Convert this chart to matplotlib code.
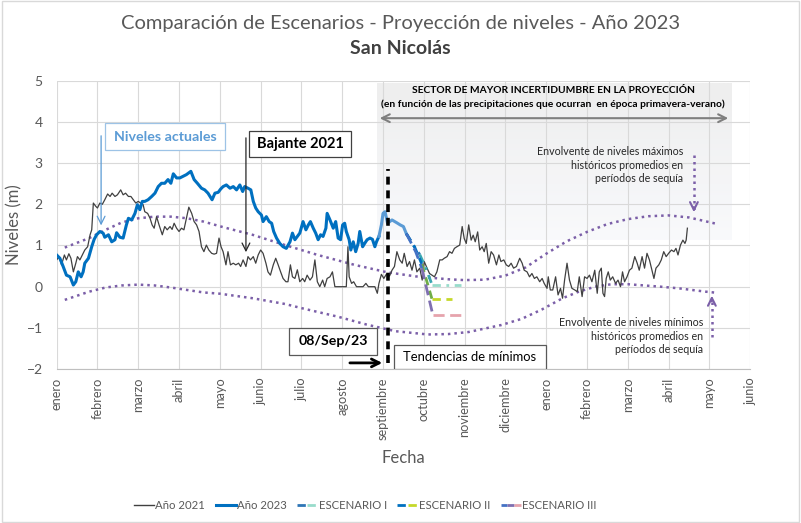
import matplotlib
matplotlib.use("Agg")
import matplotlib.pyplot as plt
import numpy as np
from matplotlib.lines import Line2D
from matplotlib.legend_handler import HandlerTuple
from matplotlib.patches import Rectangle

plt.rcParams['font.family'] = ['Lato', 'DejaVu Sans']

# x axis = months counted from enero 2023 (0) up to junio of next year (17)
month_labels = ['enero', 'febrero', 'marzo', 'abril', 'mayo', 'junio', 'julio', 'agosto',
                'septiembre', 'octubre', 'noviembre', 'diciembre', 'enero', 'febrero',
                'marzo', 'abril', 'mayo', 'junio']

# Año 2023 (observed)
m2023 = [0, 0.08, 0.16, 0.24, 0.33, 0.41, 0.47, 0.53, 0.6, 0.65, 0.69, 0.78, 0.86, 0.92,
         0.98, 1.06, 1.14, 1.18, 1.27, 1.35, 1.43, 1.47, 1.55, 1.63, 1.71, 1.76, 1.84, 1.92,
         1.98, 2.04, 2.1, 2.16, 2.24, 2.33, 2.41, 2.49, 2.57, 2.65, 2.73, 2.8, 2.86, 2.94,
         3.02, 3.1, 3.18, 3.29, 3.37, 3.45, 3.55, 3.63, 3.71, 3.81, 3.88, 3.96, 4.02, 4.08,
         4.16, 4.25, 4.33, 4.41, 4.49, 4.56, 4.61, 4.69, 4.76, 4.82, 4.88, 4.94, 5.02, 5.06,
         5.14, 5.21, 5.27, 5.32, 5.39, 5.47, 5.55, 5.63, 5.72, 5.78, 5.84, 5.9, 5.96, 6.04,
         6.11, 6.17, 6.22, 6.29, 6.35, 6.41, 6.47, 6.53, 6.6, 6.63, 6.7, 6.78, 6.84, 6.9,
         6.96, 7.01, 7.06, 7.1, 7.17, 7.21, 7.27, 7.33, 7.39, 7.43, 7.5, 7.55, 7.61, 7.68,
         7.74, 7.8, 7.84, 7.9]
v2023 = [0.77, 0.69, 0.49, 0.28, 0.24, 0.04, 0.12, 0.36, 0.24, 0.36, 0.57, 0.69, 0.97, 1.15,
         1.26, 1.34, 1.3, 1.2, 1.26, 1.09, 1.14, 1.31, 1.2, 1.18, 1.5, 1.66, 1.62, 1.78,
         1.99, 1.87, 2.07, 2.07, 2.11, 2.19, 2.27, 2.43, 2.51, 2.51, 2.6, 2.51, 2.74, 2.64,
         2.64, 2.68, 2.72, 2.8, 2.6, 2.51, 2.39, 2.35, 2.27, 2.11, 2.27, 2.29, 2.37, 2.43,
         2.47, 2.39, 2.43, 2.35, 2.47, 2.31, 2.43, 2.39, 2.35, 2.07, 1.91, 1.82, 1.74, 1.58,
         1.7, 1.58, 1.54, 1.34, 1.18, 1.05, 0.97, 0.93, 1.09, 1.3, 1.14, 1.22, 1.3, 1.58,
         1.38, 1.5, 1.58, 1.42, 1.3, 1.14, 1.26, 1.22, 1.42, 1.78, 1.62, 1.42, 1.58, 1.18,
         1.14, 1.5, 1.54, 1.34, 1.14, 0.89, 1.09, 0.85, 1.05, 1.34, 0.97, 1.05, 1.14, 1.18,
         1.15, 0.97, 1.09, 1.22]

# Año 2021
m2021 = [0, 0.06, 0.12, 0.19, 0.24, 0.3, 0.35, 0.41, 0.47, 0.51, 0.57, 0.63, 0.69, 0.76,
         0.82, 0.86, 0.9, 0.96, 1.0, 1.06, 1.12, 1.18, 1.25, 1.31, 1.36, 1.43, 1.49, 1.57,
         1.63, 1.69, 1.76, 1.82, 1.88, 1.94, 2.0, 2.06, 2.12, 2.16, 2.23, 2.29, 2.34, 2.39,
         2.45, 2.51, 2.55, 2.59, 2.65, 2.71, 2.78, 2.83, 2.88, 2.94, 3.0, 3.06, 3.12, 3.18,
         3.24, 3.31, 3.37, 3.43, 3.49, 3.55, 3.61, 3.67, 3.73, 3.8, 3.86, 3.92, 3.98, 4.03,
         4.08, 4.15, 4.2, 4.26, 4.33, 4.39, 4.46, 4.51, 4.57, 4.64, 4.69, 4.75, 4.82, 4.88,
         4.94, 5.0, 5.06, 5.13, 5.18, 5.24, 5.31, 5.37, 5.43, 5.49, 5.55, 5.62, 5.67, 5.73,
         5.78, 5.84, 5.9, 5.96, 6.03, 6.08, 6.14, 6.21, 6.27, 6.33, 6.39, 6.45, 6.52, 6.57,
         6.63, 6.7, 6.76, 6.82, 6.94, 7.1, 7.14, 7.17, 7.23, 7.28, 7.35, 7.51, 7.58, 7.64,
         7.8, 7.86, 7.9, 7.96, 8.02, 8.08, 8.16, 8.22, 8.28, 8.34, 8.41, 8.47, 8.52, 8.59,
         8.65, 8.71, 8.77, 8.83, 8.9, 8.96, 9.01, 9.08, 9.14, 9.2, 9.26, 9.32, 9.39, 9.45,
         9.5, 9.57, 9.63, 9.69, 9.75, 9.81, 9.88, 9.94, 9.99, 10.04, 10.1, 10.16, 10.21,
         10.26, 10.32, 10.37, 10.43, 10.48, 10.53, 10.59, 10.65, 10.71, 10.78, 10.84, 10.89,
         10.96, 11.02, 11.08, 11.14, 11.2, 11.27, 11.35, 11.41, 11.46, 11.53, 11.59, 11.65,
         11.71, 11.77, 11.84, 11.9, 11.95, 12.02, 12.05, 12.1, 12.16, 12.23, 12.29, 12.35,
         12.4, 12.45, 12.51, 12.57, 12.63, 12.7, 12.76, 12.81, 12.88, 12.94, 13.0, 13.06,
         13.12, 13.19, 13.25, 13.3, 13.35, 13.39, 13.43, 13.47, 13.52, 13.57, 13.63, 13.7,
         13.76, 13.82, 13.87, 13.92, 13.98, 14.04, 14.1, 14.17, 14.23, 14.28, 14.35, 14.41,
         14.47, 14.53, 14.58, 14.64, 14.69, 14.76, 14.82, 14.88, 14.94, 15.0, 15.07, 15.13,
         15.18, 15.23, 15.29, 15.35, 15.4, 15.43, 15.46]
v2021 = [0.65, 0.73, 0.53, 0.77, 0.65, 0.8, 0.69, 0.36, 0.57, 0.73, 0.65, 0.77, 0.89, 0.97,
         1.26, 1.38, 2.03, 1.95, 1.91, 2.03, 2.0, 2.11, 2.25, 2.19, 2.27, 2.19, 2.23, 2.35,
         2.23, 2.27, 2.19, 2.19, 2.11, 2.03, 2.07, 2.03, 1.99, 1.82, 1.78, 1.66, 1.5, 1.42,
         1.7, 1.5, 1.38, 1.26, 1.46, 1.38, 1.46, 1.39, 1.54, 1.42, 1.34, 1.42, 1.38, 1.66,
         1.93, 1.78, 1.58, 1.5, 1.34, 0.97, 0.85, 1.01, 0.89, 0.81, 0.79, 0.81, 1.18, 0.97,
         0.85, 0.53, 0.85, 0.53, 0.57, 0.53, 0.57, 0.49, 0.65, 0.49, 0.73, 0.65, 0.73, 0.57,
         0.77, 0.89, 0.81, 0.57, 0.36, 0.28, 0.53, 0.69, 0.53, 0.36, 0.2, 0.12, 0.12, 0.53,
         0.24, 0.2, 0.41, 0.12, 0.2, 0.12, 0.28, 0.16, 0.24, 0.65, 0.12, 0.0, 0.16, 0.0,
         0.2, 0.24, 0.36, 0.0, 0.0, 0.0, 0.97, 0.24, 0.08, 0.12, 0.0, 0.0, 0.08, 0.0,
         0.0, -0.16, 0.08, 0.3, 0.2, 0.3, 0.26, 0.4, 0.49, 0.85, 0.65, 0.57, 0.81, 0.49,
         0.61, 0.4, 0.65, 0.36, 0.45, 0.16, 0.61, 0.45, 0.32, 0.28, 0.24, 0.36, 0.65, 0.65,
         0.69, 0.73, 0.85, 0.81, 0.93, 0.97, 1.01, 1.46, 1.17, 1.05, 1.5, 1.13, 1.25,
         1.09, 1.33, 0.89, 0.97, 0.85, 1.05, 0.57, 0.85, 0.77, 0.53, 0.77, 0.61,
         0.65, 0.53, 0.49, 0.57, 0.45, 0.49, 0.69, 0.57, 0.4, 0.36, 0.24, 0.32,
         0.2, 0.24, 0.12, 0.2, 0.08, -0.04, 0.24, -0.08, -0.08, 0.24, -0.2, -0.04,
         -0.28, 0.16, 0.57, 0.16, -0.04, -0.08, -0.12, 0.24, -0.24, 0.24, 0.2, 0.28,
         0.12, 0.4, -0.16, 0.36, 0.45, -0.16, -0.24, 0.2, 0.36, 0.16, 0.24, 0.08,
         0.16, 0.0, 0.36, 0.12, 0.24, 0.4, 0.45, 0.73, 0.57, 0.4, 0.73, 0.45,
         0.81, 0.65, 0.45, 0.2, 0.45, 0.53, 0.65, 0.85, 0.73, 0.81, 0.89, 0.85,
         0.93, 0.77, 1.01, 1.13, 1.05, 1.13, 1.42]

# historical drought envelopes
m_env_max = [0.2, 0.8, 1.2, 1.6, 2.0, 2.4, 2.8, 3.2, 3.6, 4.1, 4.8, 5.6, 6.4, 7.3, 8.1,
             8.8, 9.6, 10.0, 10.5, 11.0, 11.5, 12.0, 12.5, 13.0, 13.5, 14.0, 14.5, 15.0,
             15.5, 16.2]
v_env_max = [0.95, 1.18, 1.38, 1.56, 1.66, 1.7, 1.7, 1.66, 1.58, 1.44, 1.26, 1.01, 0.77,
             0.53, 0.35, 0.25, 0.18, 0.16, 0.17, 0.27, 0.47, 0.8, 1.1, 1.33, 1.52, 1.64,
             1.71, 1.73, 1.68, 1.52]
m_env_min = [0.2, 0.8, 1.2, 1.6, 2.0, 2.4, 2.8, 3.2, 3.6, 4.0, 4.8, 5.6, 6.0, 6.9, 7.6,
             8.3, 9.1, 9.6, 10.1, 10.9, 11.4, 11.9, 12.4, 12.8, 13.2, 13.6, 14.0, 14.4,
             14.8, 15.25, 15.9, 16.2]
v_env_min = [-0.32, -0.12, -0.02, 0.03, 0.05, 0.03, -0.02, -0.08, -0.14, -0.17, -0.28,
             -0.42, -0.52, -0.73, -0.92, -1.08, -1.16, -1.15, -1.1, -0.93, -0.78, -0.55,
             -0.28, -0.12, 0.0, 0.06, 0.06, 0.03, 0.0, -0.04, -0.12, -0.15]

# scenarios (projection from 08/Sep/23)
m_sc_start = [7.9, 7.96, 8.0, 8.05, 8.11, 8.22, 8.34, 8.42, 8.5, 8.57]
v_sc_start = [1.22, 1.5, 1.78, 1.82, 1.54, 1.62, 1.55, 1.5, 1.46, 1.29]
m_sc1 = [8.57, 8.75, 8.9, 9.05, 9.2, 9.9]
v_sc1 = [1.29, 1.0, 0.78, 0.45, 0.05, 0.05]
m_sc2 = [8.57, 8.78, 8.95, 9.2, 9.7]
v_sc2 = [1.29, 0.95, 0.55, -0.3, -0.3]
m_sc3 = [8.57, 8.8, 8.95, 9.22, 9.9]
v_sc3 = [1.29, 0.85, 0.45, -0.68, -0.68]

fecha_corte = 8.13

W, H = 801, 523
fig = plt.figure(figsize=(W / 100, H / 100), dpi=100)
ax = fig.add_axes([0.0707, 0.2943, 0.8659, 0.5514])

gray_txt = '#595959'
ax.set_xlim(0, 17)
ax.set_ylim(-2, 5)
ax.set_xticks(range(18))
ax.set_xticklabels(month_labels, rotation=90, fontsize=9.2, color=gray_txt)
ax.set_yticks(range(-2, 6))
ax.tick_params(axis='y', labelsize=10, labelcolor=gray_txt, length=0, pad=10)
ax.tick_params(axis='x', length=0, pad=6)
ax.grid(True, color='#d9d9d9', lw=0.8)
ax.set_axisbelow(True)
for s in ['top', 'right', 'left']:
    ax.spines[s].set_visible(False)
ax.spines['bottom'].set_color('#bfbfbf')
ax.set_ylabel('Niveles (m)', fontsize=12, color=gray_txt, labelpad=3)
ax.set_xlabel('Fecha', fontsize=12, color=gray_txt, labelpad=7)

# uncertainty sector (soft gray gradient)
grad = np.linspace(0, 1, 100).reshape(-1, 1)
cmap = matplotlib.colors.LinearSegmentedColormap.from_list('g', ['#ebebeb', '#f8f9fc'])
ax.imshow(grad, extent=[7.85, 16.53, 1.13, 4.94], origin='upper', cmap=cmap, aspect='auto',
          alpha=0.85, zorder=0.5)
ax.set_xlim(0, 17)
ax.set_ylim(-2, 5)
ax.annotate('', xy=(7.85, 4.09), xytext=(16.53, 4.09),
            arrowprops=dict(arrowstyle='<->', color='#7f7f7f', lw=1.5, mutation_scale=14))
ax.text(12.17, 4.75, 'SECTOR DE MAYOR INCERTIDUMBRE EN LA PROYECCIÓN', ha='center',
        va='center', fontsize=7.4, fontweight='bold')
ax.text(12.17, 4.43, '(en función de las precipitaciones que ocurran  en época primavera-verano)',
        ha='center', va='center', fontsize=7.4, fontweight='bold')

purple = '#7b5fa8'
ax.plot(m_env_max, v_env_max, color=purple, lw=1.8, ls=(0, (1, 1.6)), zorder=2)
ax.plot(m_env_min, v_env_min, color=purple, lw=1.8, ls=(0, (1, 1.6)), zorder=2)

ax.plot(m2021, v2021, color='#404040', lw=0.9, zorder=3)
ax.plot(m2023, v2023, color='#0070c0', lw=2.2, zorder=4)

# scenarios
ax.plot(m_sc_start, v_sc_start, color='#5b9bd5', lw=2.2, zorder=4)
ax.plot(m_sc1[:3], v_sc1[:3], color='#2e75b6', lw=2, ls=(0, (3, 2, 1, 2)), zorder=4)
ax.plot(m_sc1[2:5], v_sc1[2:5], color='#3aa6b0', lw=2, ls=(0, (3, 2, 1, 2)), zorder=4)
ax.plot(m_sc1[4:], v_sc1[4:], color='#98dccb', lw=2, ls=(0, (3, 2, 1, 2)), zorder=4)
ax.plot(m_sc2[:3], v_sc2[:3], color='#0070c0', lw=2, ls=(0, (3, 2)), zorder=4)
ax.plot(m_sc2[2:4], v_sc2[2:4], color='#70ad47', lw=2, ls=(0, (3, 2)), zorder=4)
ax.plot(m_sc2[3:], v_sc2[3:], color='#c5d82a', lw=2, ls=(0, (3, 2)), zorder=4)
ax.plot(m_sc3[:3], v_sc3[:3], color='#4472c4', lw=2, ls=(0, (4, 2)), zorder=4)
ax.plot(m_sc3[2:4], v_sc3[2:4], color='#7f6fb0', lw=2, ls=(0, (4, 2)), zorder=4)
ax.plot(m_sc3[3:], v_sc3[3:], color='#e6a3ac', lw=2, ls=(0, (4, 2)), zorder=4)

ax.plot([fecha_corte, fecha_corte], [-1.85, 2.85], color='black', lw=2.6,
        dashes=(2.2, 1.6), zorder=5)

# annotations
ax.add_patch(Rectangle((1.19, 3.32), 2.94, 0.65, fill=True, fc='white', ec='#9dc3e6',
                       lw=0.9, zorder=6))
ax.text(2.66, 3.645, 'Niveles actuales', ha='center', va='center', fontsize=10.3,
        fontweight='bold', color='#5b9bd5', zorder=7)
ax.annotate('', xy=(1.09, 1.42), xytext=(1.09, 3.73),
            arrowprops=dict(arrowstyle='->', color='#5b9bd5', lw=0.9, mutation_scale=14), zorder=6)

ax.add_patch(Rectangle((4.72, 3.15), 2.5, 0.63, fc='white', ec='#404040', lw=0.9, zorder=6))
ax.text(5.97, 3.465, 'Bajante 2021', ha='center', va='center', fontsize=10.5,
        fontweight='bold', color='black', zorder=7)
ax.annotate('', xy=(4.64, 0.77), xytext=(4.64, 3.68),
            arrowprops=dict(arrowstyle='->', color='#262626', lw=0.9, mutation_scale=14), zorder=6)

ax.add_patch(Rectangle((5.7, -1.66), 2.15, 0.66, fc='white', ec='#595959', lw=0.9, zorder=6))
ax.text(6.78, -1.33, '08/Sep/23', ha='center', va='center', fontsize=10.2,
        fontweight='bold', color='black', zorder=7)
ax.annotate('', xy=(8.05, -1.85), xytext=(7.12, -1.85),
            arrowprops=dict(arrowstyle='->', color='black', lw=2, mutation_scale=14), zorder=6)

ax.add_patch(Rectangle((8.27, -1.99), 3.73, 0.58, fc='white', ec='#595959', lw=0.9, zorder=6))
ax.text(10.13, -1.7, 'Tendencias de mínimos', ha='center', va='center', fontsize=9.4,
        color='black', zorder=7)

for y, t in zip([3.29, 2.95, 2.63], ['Envolvente de niveles máximos', 'históricos promedios en',
                                    'períodos de sequía']):
    ax.text(15.35, y, t, ha='right', va='center', fontsize=7.7, color='#262626', zorder=7)
ax.plot([15.62, 15.62], [3.2, 1.85], color=purple, lw=1.8, ls=(0, (1, 1.6)), zorder=6)
ax.annotate('', xy=(15.62, 1.74), xytext=(15.62, 2.0),
            arrowprops=dict(arrowstyle='->', color=purple, lw=1.5, mutation_scale=14), zorder=6)

for y, t in zip([-0.86, -1.2, -1.52], ['Envolvente de niveles mínimos', 'históricos promedios en',
                                      'períodos de sequía']):
    ax.text(15.84, y, t, ha='right', va='center', fontsize=7.7, color='#262626', zorder=7)
ax.plot([16.06, 16.06], [-1.22, -0.28], color=purple, lw=1.8, ls=(0, (1, 1.6)), zorder=6)
ax.annotate('', xy=(16.06, -0.15), xytext=(16.06, -0.42),
            arrowprops=dict(arrowstyle='->', color=purple, lw=1.5, mutation_scale=14), zorder=6)

# titles
fig.text(0.5, 0.955, 'Comparación de Escenarios - Proyección de niveles - Año 2023',
         ha='center', va='center', fontsize=14.5, color=gray_txt)
fig.text(0.5, 0.907, 'San Nicolás', ha='center', va='center', fontsize=14,
         fontweight='bold', color='#404040')

# legend
h21 = Line2D([], [], color='#404040', lw=1)
h23 = Line2D([], [], color='#0070c0', lw=2.2)
h1 = (Line2D([], [], color='#2e75b6', lw=2, ls=(0, (3, 2, 1, 2))),
      Line2D([], [], color='#98dccb', lw=2, ls=(0, (3, 2, 1, 2))))
h2 = (Line2D([], [], color='#0070c0', lw=2, ls=(0, (3, 2))),
      Line2D([], [], color='#c5d82a', lw=2, ls=(0, (3, 2))))
h3 = (Line2D([], [], color='#4472c4', lw=2, ls=(0, (4, 2))),
      Line2D([], [], color='#7f6fb0', lw=2, ls=(0, (4, 2))),
      Line2D([], [], color='#e6a3ac', lw=2, ls=(0, (4, 2))))
fig.legend([h21, h23, h1, h2, h3], ['Año 2021', 'Año 2023', 'ESCENARIO I', 'ESCENARIO II',
                                    'ESCENARIO III'],
           handler_map={tuple: HandlerTuple(ndivide=None, pad=0)}, loc='center',
           bbox_to_anchor=(0.456, 0.034), ncol=5, frameon=False, fontsize=8.2,
           handlelength=1.8, handletextpad=0.1, columnspacing=0.9, labelcolor=gray_txt)

# chart frame
fig.patches.append(Rectangle((0.002, 0.002), 0.996, 0.996, transform=fig.transFigure,
                             fill=False, ec='#d9d9d9', lw=1))

fig.savefig('out.png', dpi=100)
